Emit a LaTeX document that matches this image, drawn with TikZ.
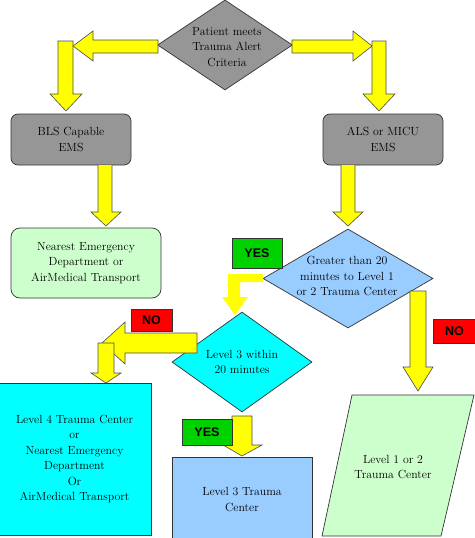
\documentclass[tikz,border=0pt]{standalone}
\usepackage{fontspec}
\newfontfamily\tagfont{Liberation Sans}
\usetikzlibrary{shapes.geometric}

\definecolor{emsgray}{RGB}{150,150,150}
\definecolor{paleblue}{RGB}{153,204,255}
\definecolor{palegreen}{RGB}{204,255,204}
\definecolor{brightcyan}{RGB}{0,255,255}
\definecolor{tagred}{RGB}{255,0,0}
\definecolor{taggreen}{RGB}{0,210,0}
\definecolor{arrowyellow}{RGB}{255,255,0}

\tikzset{
  flowbox/.style={draw=black!80, line width=0.7pt, align=center, inner sep=0pt,
    font=\fontsize{11.8}{15.5}\selectfont},
  decision/.style={diamond, draw=black!80, line width=0.7pt, inner sep=0pt},
  flowtext/.style={align=center, inner sep=0pt, font=\fontsize{11.8}{15.5}\selectfont},
  tagbox/.style={draw=black!80, line width=0.6pt, inner sep=0pt,
    font=\tagfont\bfseries\fontsize{12.5}{14}\selectfont},
  fatarrow/.style={draw=black!70, fill=arrowyellow, line width=0.6pt},
}

\begin{document}
\begin{tikzpicture}[x=1pt,y=-1pt]
\useasboundingbox (0,0) rectangle (474,538);

% decisions
\node [decision, fill=emsgray, minimum width=135pt, minimum height=90pt] (patient) at (225,45) {};
\node [flowtext] (patienttxt) at (227,47) {Patient meets\\Trauma Alert\\Criteria};
\node [decision, fill=paleblue, minimum width=170pt, minimum height=99pt] (greater) at (348,278.5) {};
\node [flowtext] (greatertxt) at (347,276) {Greater than 20\\minutes to Level 1\\or 2 Trauma Center};
\node [decision, fill=brightcyan, minimum width=140pt, minimum height=100pt] (levelthree) at (242,362) {};
\node [flowtext] (levelthreetxt) at (242,362) {Level 3 within\\20 minutes};

% boxes
\node [flowbox, fill=emsgray, rounded corners=7pt, minimum width=120pt, minimum height=51pt] (bls) at (71,139.5) {BLS Capable\\EMS};
\node [flowbox, fill=emsgray, rounded corners=7pt, minimum width=120pt, minimum height=51pt] (als) at (383,139.5) {ALS or MICU\\EMS};
\node [flowbox, fill=palegreen, rounded corners=9pt, minimum width=150pt, minimum height=70pt] (nearest) at (86,263) {Nearest Emergency\\Department or\\AirMedical Transport};
\node [flowbox, fill=brightcyan, minimum width=153pt, minimum height=152pt] (levelfour) at (74.5,459) {Level 4 Trauma Center\\or\\Nearest Emergency\\Department\\Or\\AirMedical Transport};
\node [flowbox, fill=paleblue, minimum width=140pt, minimum height=85pt] (threecenter) at (242,499.5) {Level 3 Trauma\\Center};
\draw [draw=black!80, line width=0.7pt, fill=palegreen] (322,536) -- (441,536) -- (474,395) -- (352,395) -- cycle;
\node [flowtext] (onetwo) at (393,467) {Level 1 or 2\\Trauma Center};

% arrows from the top
\draw [fatarrow] (158,40) -- (93,40) -- (93,31) -- (73,46) -- (93,61) -- (93,53) -- (158,53) -- cycle;
\draw [fatarrow] (58,41) -- (73,41) -- (73,94) -- (82,94) -- (66,111) -- (50,94) -- (58,94) -- cycle;
\draw [fatarrow] (292,40) -- (353,40) -- (353,31) -- (372,46) -- (353,61) -- (353,53) -- (292,53) -- cycle;
\draw [fatarrow] (372,41) -- (386,41) -- (386,94) -- (395,94) -- (379,111) -- (363,94) -- (372,94) -- cycle;
\draw [fatarrow] (98,165) -- (98,212) -- (91,212) -- (106,226) -- (121,212) -- (112,212) -- (112,165);
\draw [fatarrow] (341,165) -- (341,212) -- (333,212) -- (348,226) -- (363,212) -- (355,212) -- (355,165);

% yes / no branches
\fill [arrowyellow] (263,274) -- (228,274) -- (228,297) -- (222,297) -- (235,315) -- (248,297) -- (240,297) -- (240,282) -- (263,282) -- cycle;
\draw [fatarrow] (197,333) -- (125,333) -- (125,322) -- (102,343) -- (125,364) -- (125,353) -- (197,353) -- cycle;
\draw [fatarrow] (98,343) -- (98,373) -- (91,373) -- (106,383) -- (121,373) -- (114,373) -- (114,343) -- cycle;
\draw [fatarrow] (410,291) -- (410,367) -- (403,367) -- (418,391) -- (433,367) -- (426,367) -- (426,291) -- cycle;
\draw [fatarrow] (232,416) -- (232,445) -- (223,445) -- (242,456) -- (262,445) -- (252,445) -- (252,416) -- cycle;

% tags
\node [tagbox, fill=taggreen, minimum width=50pt, minimum height=30pt] (yesone) at (257,253) {YES};
\node [tagbox, fill=tagred, minimum width=41pt, minimum height=22pt] (noone) at (151.5,320) {NO};
\node [tagbox, fill=tagred, minimum width=43pt, minimum height=24pt] (notwo) at (454.5,331) {NO};
\node [tagbox, fill=taggreen, minimum width=50pt, minimum height=26pt] (yestwo) at (207,432) {YES};

\end{tikzpicture}
\end{document}
